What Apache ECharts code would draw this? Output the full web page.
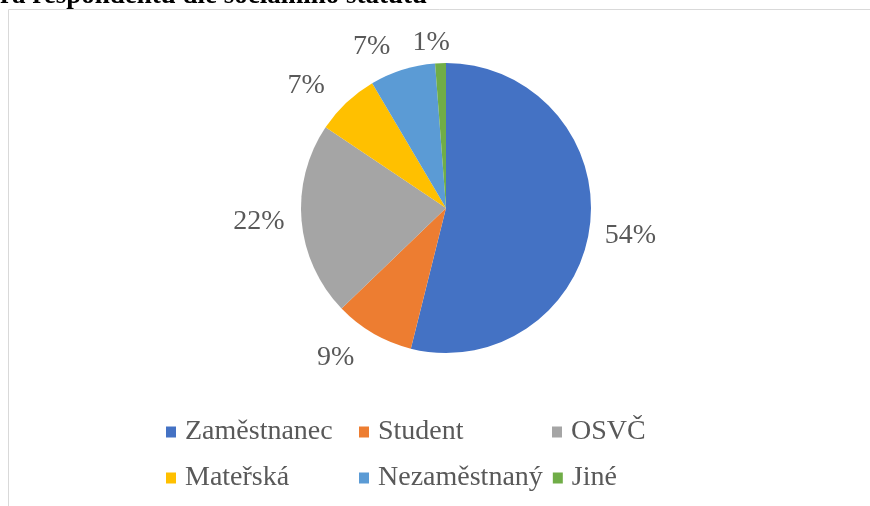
<!DOCTYPE html>
<html>
<head>
<meta charset="utf-8">
<script src="https://cdn.jsdelivr.net/npm/echarts@6/dist/echarts.min.js"></script>
<style>
  html, body { margin: 0; padding: 0; background: #fff; }
  #chart { width: 870px; height: 506px; }
</style>
</head>
<body>
<div id="chart"></div>
<script>
// kategorie a podíly (%)
var categories = ['Zaměstnanec', 'Student', 'OSVČ', 'Mateřská', 'Nezaměstnaný', 'Jiné']
var shares = [53.9, 8.9, 21.6, 7.1, 7.3, 1.2]
var colors = ['#4472c4', '#ed7d31', '#a5a5a5', '#ffc000', '#5b9bd5', '#70ad47']
var titleText = 'ra respondentů dle sociálního statutu'

var serif = 'Liberation Serif'
// délka vodicí čáry popisku a drobný posun popisku pro každý výsek (čáry se nekreslí)
var labelLen = [10, 28, 12, 24, 24, 20]
var labelShift = [[0, 9], [0, 0], [0, 0], [0, 0], [0, 0], [15, 0]]

var chart = echarts.init(document.getElementById('chart'))

var pieData = categories.map(function (name, i) {
  return {
    name: name,
    value: shares[i],
    label: { offset: labelShift[i] },
    labelLine: { length: labelLen[i], length2: 0 }
  }
})

var option = {
  backgroundColor: '#fff',
  color: colors,
  title: {
    text: titleText,
    left: 0,
    top: -17,
    padding: 0,
    textStyle: {
      fontFamily: serif,
      fontWeight: 'bold',
      fontSize: 27,
      color: '#000'
    }
  },
  graphic: [{
    // rámeček grafu
    type: 'rect',
    shape: { x: 8.5, y: 9.5, width: 900, height: 600 },
    style: { fill: 'none', stroke: '#d9d9d9', lineWidth: 1 },
    silent: true
  }],
  legend: {
    data: categories,
    left: 166,
    top: 414,
    width: 610,
    orient: 'horizontal',
    icon: 'rect',
    itemWidth: 10,
    itemHeight: 11,
    itemGap: 10,
    padding: 0,
    textStyle: {
      fontFamily: serif,
      fontSize: 28,
      color: '#595959',
      width: 164,
      lineHeight: 36,
      padding: [0, 0, 0, 4]
    }
  },
  series: [{
    type: 'pie',
    center: [446, 208],
    radius: 145,
    startAngle: 90,
    clockwise: true,
    avoidLabelOverlap: false,
    data: pieData,
    itemStyle: { borderColor: '#fff', borderWidth: 0 },
    label: {
      show: true,
      position: 'outside',
      formatter: function (p) { return Math.round(p.percent) + '%' },
      fontFamily: serif,
      fontSize: 28,
      color: '#595959'
    },
    labelLine: { show: false },
    emphasis: { disabled: true }
  }]
}

chart.setOption(option)
</script>
</body>
</html>
